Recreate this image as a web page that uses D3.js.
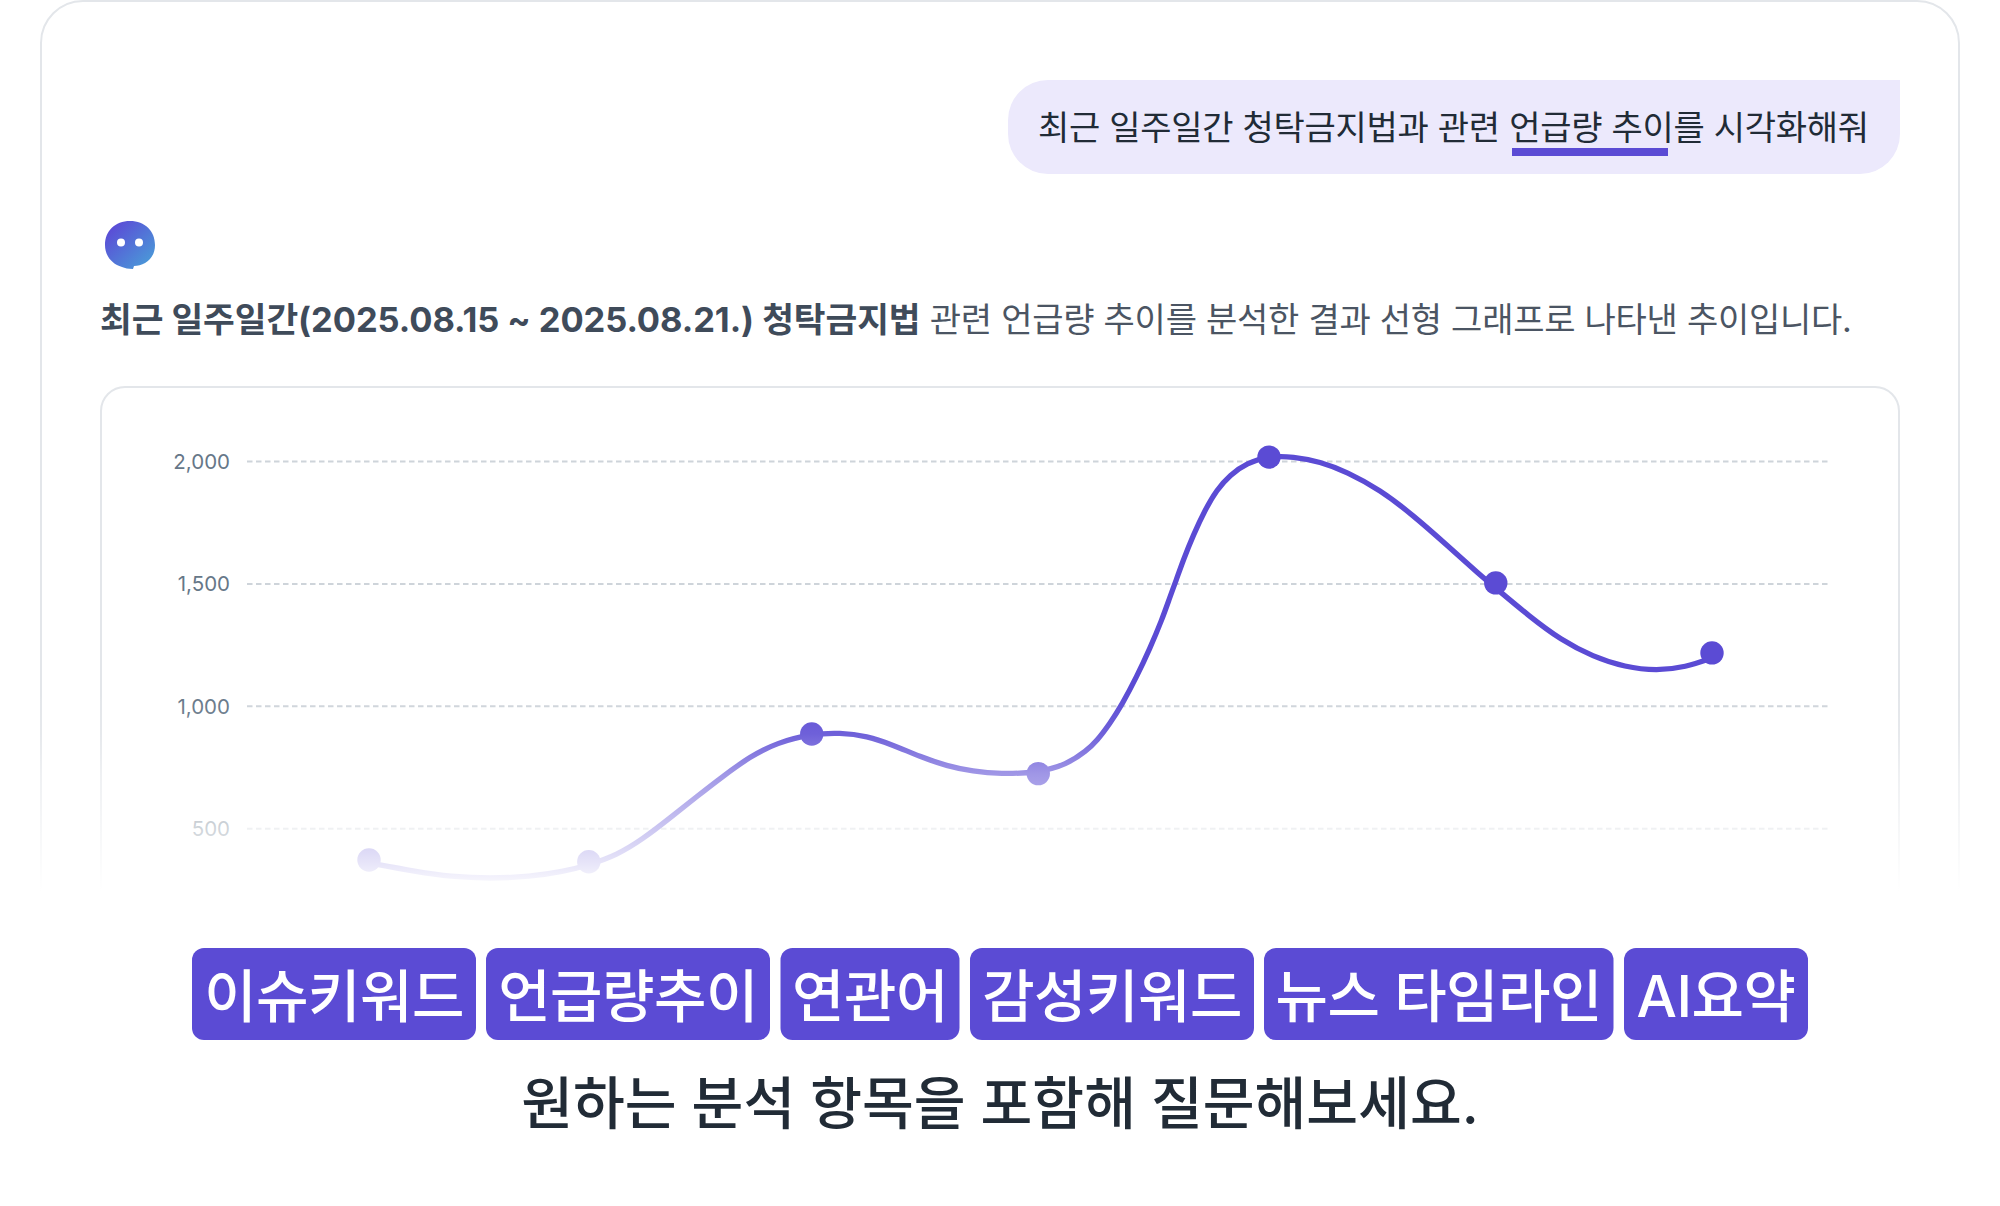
<!DOCTYPE html>
<html lang="ko"><head><meta charset="utf-8">
<script src="https://cdn.jsdelivr.net/npm/d3@7"></script>
<style>
html,body{margin:0;padding:0;background:#fff}
svg{display:block}
text{font-family:Inter,"Noto Sans CJK KR",sans-serif}
</style></head><body>
<svg id="c" width="2000" height="1206"></svg>
<script>
const dates=["08.15","08.16","08.17","08.18","08.19","08.20","08.21"];
const dayOffsets=[0,0.982,1.978,2.99,4.021,5.034,6];
const mentions=[370,363,885,723,2016,1502,1216];
// the drawn curve
const curveDays=[0,0.214,0.362,0.541,0.719,0.867,0.982,1.107,1.224,1.345,1.464,1.582,1.702,1.821,1.978,2.104,2.224,2.341,2.462,2.581,2.698,2.819,2.989,3.117,3.206,3.251,3.311,3.363,3.430,3.489,3.542,3.579,3.605,3.638,3.683,3.735,3.787,3.847,3.921,4.021,4.128,4.249,4.368,4.517,4.664,4.815,4.964,5.034,5.182,5.325,5.468,5.611,5.754,5.882,6];
const curveValues=[358,322,302,294,302,322,350,390,456,542,629,713,792,849,885,890,877,840,792,754,732,721,727,760,817,856,929,1003,1119,1235,1350,1446,1510,1596,1698,1800,1882,1943,1991,2020,2018,1997,1956,1882,1779,1657,1534,1481,1367,1269,1201,1158,1143,1158,1195];
const yTicks=[500,1000,1500,2000];
const tags=["이슈키워드","언급량추이","연관어","감성키워드","뉴스 타임라인","AI요약"];
const prompt=["최근 일주일간 청탁금지법과 관련 ","언급량 추이","를 시각화해줘"];
const answerBold="최근 일주일간(2025.08.15 ~ 2025.08.21.) 청탁금지법";
const answerRest=" 관련 언급량 추이를 분석한 결과 선형 그래프로 나타낸 추이입니다.";
const footer="원하는 분석 항목을 포함해 질문해보세요.";

const svg=d3.select("#c");
const PURPLE="#5b4bd4";
const defs=svg.append("defs");
const ig=defs.append("linearGradient").attr("id","ig").attr("x1",0).attr("y1",0).attr("x2",1).attr("y2",1);
ig.append("stop").attr("offset","10%").attr("stop-color","#5b49d6");
ig.append("stop").attr("offset","90%").attr("stop-color","#4a9ad8");
const fg=defs.append("linearGradient").attr("id","fade").attr("x1",0).attr("y1",0).attr("x2",0).attr("y2",1);
[[0,0],[.215,.12],[.41,.42],[.84,.85],[.98,1],[1,1]].forEach(([o,a])=>fg.append("stop").attr("offset",o).attr("stop-color","#fff").attr("stop-opacity",a));

// cards
svg.append("rect").attr("x",41).attr("y",1).attr("width",1918).attr("height",1100).attr("rx",42)
  .attr("fill","#fff").attr("stroke","#e3e6ea").attr("stroke-width",2);
svg.append("rect").attr("x",101).attr("y",387).attr("width",1798).attr("height",700).attr("rx",24)
  .attr("fill","#fff").attr("stroke","#e3e6ea").attr("stroke-width",2);

// user bubble
const r=40,bx=1008,by=80,bw=892,bh=94;
svg.append("path").attr("fill","#ece9fc").attr("d",
 `M${bx+r},${by}H${bx+bw}V${by+bh-r}A${r},${r} 0 0 1 ${bx+bw-r},${by+bh}H${bx+r}A${r},${r} 0 0 1 ${bx},${by+bh-r}V${by+r}A${r},${r} 0 0 1 ${bx+r},${by}Z`);
svg.append("rect").attr("x",1512).attr("y",148).attr("width",156).attr("height",8).attr("fill",PURPLE);
svg.append("text").attr("x",1038).attr("y",140).attr("font-size",34).attr("fill","#212b36").attr("letter-spacing",-0.28)
  .selectAll("tspan").data(prompt).join("tspan").text(d=>d);

// bot icon
svg.append("path").attr("fill","url(#ig)").attr("d",
 "M130,221C145,221 155,231 155,245C155,259 144,266 134,266L133,269C128,269 125,268 122,267C112,264 105,256 105,245C105,231 115,221 130,221Z");
svg.selectAll(".eye").data([121,139]).join("circle").attr("class","eye").attr("cx",d=>d).attr("cy",242.5).attr("r",4).attr("fill","#fff");

// answer text
const ans=svg.append("text").attr("x",100).attr("y",331.5);
ans.append("tspan").attr("font-weight",700).attr("font-size",34.5).attr("letter-spacing",-0.07).attr("fill","#3f4b5a").text(answerBold);
ans.append("tspan").attr("font-weight",400).attr("font-size",34).attr("letter-spacing",-0.25).attr("fill","#4b5563").text(answerRest);

// chart
const x=d3.scaleLinear().domain([0,6]).range([369,1712]);
const y=d3.scaleLinear().domain([0,2000]).range([950.6,461]);
const axis=d3.axisLeft(y).tickValues(yTicks).tickFormat(d3.format(",")).tickSize(-1581).tickPadding(17);
const ag=svg.append("g").attr("transform","translate(247,0)").call(axis);
ag.select(".domain").remove();
ag.selectAll(".tick line").attr("stroke","#ced4da").attr("stroke-width",2).attr("stroke-dasharray","5.5 3.5");
ag.selectAll(".tick text").attr("font-size",20.5).attr("fill","#667788").attr("dy","0.36em").style("font-family","Inter");
const line=d3.line().x((d,i)=>x(curveDays[i])).y(d=>y(d)).curve(d3.curveBasis);
svg.append("path").attr("d",line(curveValues)).attr("fill","none").attr("stroke",PURPLE).attr("stroke-width",5.3);
svg.selectAll(".pt").data(mentions).join("circle").attr("class","pt")
  .attr("cx",(d,i)=>x(dayOffsets[i])).attr("cy",d=>y(d)).attr("r",11.7).attr("fill",PURPLE);

// fade overlay
svg.append("rect").attr("x",0).attr("y",690).attr("width",2000).attr("height",205).attr("fill","url(#fade)");
svg.append("rect").attr("x",0).attr("y",895).attr("width",2000).attr("height",311).attr("fill","#fff");

// tags
const tagX=[192,486,780.5,970,1264,1624];
const tagW=[284,284,179,284,349.5,184];
const tg=svg.selectAll(".tag").data(tags).join("g").attr("class","tag").attr("transform",(d,i)=>`translate(${tagX[i]},948)`);
tg.append("rect").attr("width",(d,i)=>tagW[i]).attr("height",92).attr("rx",12).attr("fill",PURPLE);
tg.append("text").attr("x",(d,i)=>tagW[i]/2).attr("y",68.5).attr("text-anchor","middle").attr("font-size",57).attr("font-weight",500).attr("letter-spacing",-0.5).attr("fill","#fff").text(d=>d);

// footer
svg.append("text").attr("x",1000).attr("y",1123.5).attr("text-anchor","middle").attr("font-size",56.3).attr("font-weight",500).attr("fill","#212b36").text(footer);
</script></body></html>
